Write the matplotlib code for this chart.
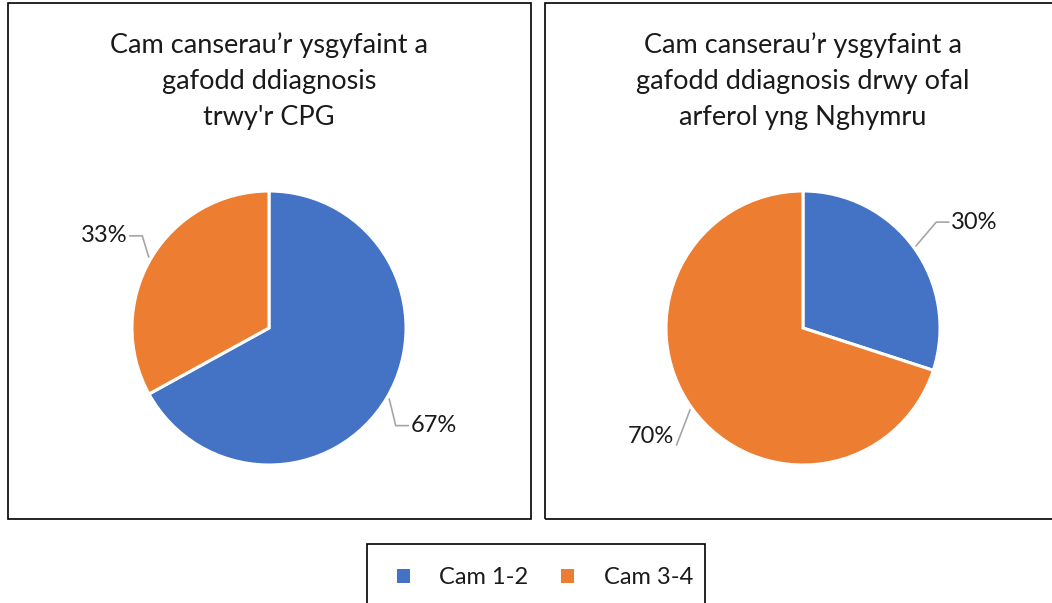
import numpy as np
import matplotlib
matplotlib.use("Agg")
import matplotlib.pyplot as plt
from matplotlib.patches import Rectangle, Patch

plt.rcParams['font.family'] = ['Lato', 'DejaVu Sans']

categories = ["Cam 1-2", "Cam 3-4"]
titles = ["Cam canserau\u2019r ysgyfaint a\ngafodd ddiagnosis\ntrwy'r CPG",
          "Cam canserau\u2019r ysgyfaint a\ngafodd ddiagnosis drwy ofal\narferol yng Nghymru"]
cpg_values = [67, 33]
routine_values = [30, 70]
series = [cpg_values, routine_values]
colors = ["#4472C4", "#ED7D31"]

W, H = 1052, 603
fig = plt.figure(figsize=(W / 100, H / 100), dpi=100)

def fx(px):
    return px / W

def fy(py):
    return 1 - py / H

# panel borders
for (x0, x1) in [(8, 531), (545, 1060)]:
    fig.patches.append(Rectangle((fx(x0), fy(519)), fx(x1 - x0), (519 - 3) / H,
                                 transform=fig.transFigure, fill=False,
                                 edgecolor="black", linewidth=1.2))

centers = [(269, 328), (803, 328)]
R = 137
FS = 17
TFS = 19.5
# small per-label nudges (axes units) for label placement
nudges = [[(0.0, 0.0), (0.0, -0.04)], [(0.12, -0.05), (0.02, 0.03)]]
elbow_gap = [[0.09, 0.09], [0.09, 0.0]]

for i, (vals, (cx, cy)) in enumerate(zip(series, centers)):
    ax = fig.add_axes([fx(cx - R), fy(cy + R), 2 * R / W, 2 * R / H])
    wedges, _ = ax.pie(vals, colors=colors, startangle=90, counterclock=False,
                       wedgeprops=dict(edgecolor="white", linewidth=2.2))
    ax.set_xlim(-1, 1)
    ax.set_ylim(-1, 1)
    ax.set_clip_on(False)
    total = sum(vals)
    start = 90.0
    for j, v in enumerate(vals):
        sweep = 360.0 * v / total
        mid = np.deg2rad(start - sweep / 2)
        start -= sweep
        d = np.array([np.cos(mid), np.sin(mid)])
        tx, ty = d * 1.4 + np.array(nudges[i][j])
        s = 1 if d[0] >= 0 else -1
        w = 0.17
        p0 = d * 1.02
        if elbow_gap[i][j] > 0:
            elbow = (tx - s * (w + 0.02 + elbow_gap[i][j]), ty)
            end = (tx - s * (w + 0.02), ty)
            xs, ys = [p0[0], elbow[0], end[0]], [p0[1], elbow[1], end[1]]
        else:
            end = (tx - s * (w + 0.02), ty - 0.06)
            xs, ys = [p0[0], end[0]], [p0[1], end[1]]
        ax.plot(xs, ys, color="#A6A6A6", lw=1.2, clip_on=False)
        ax.text(tx, ty, f"{v}%", ha="center", va="center", fontsize=FS,
                color="#1a1a1a", clip_on=False)

    fig.text(fx(cx), fy(32), titles[i], ha="center", va="top", fontsize=TFS,
             linespacing=1.55, color="#1a1a1a")

# legend
fig.patches.append(Rectangle((fx(367), fy(620)), fx(705 - 367), (620 - 544) / H,
                             transform=fig.transFigure, fill=False,
                             edgecolor="black", linewidth=1.2))
leg = fig.legend([Patch(facecolor=c, edgecolor="none") for c in colors], categories,
                 loc="center", bbox_to_anchor=(fx(545), fy(578)), ncol=2,
                 frameon=False, fontsize=FS, handlelength=0.55, handleheight=0.55,
                 handletextpad=1.25, columnspacing=1.4)
for t in leg.get_texts():
    t.set_color("#1a1a1a")

fig.savefig("out.png", dpi=100)
